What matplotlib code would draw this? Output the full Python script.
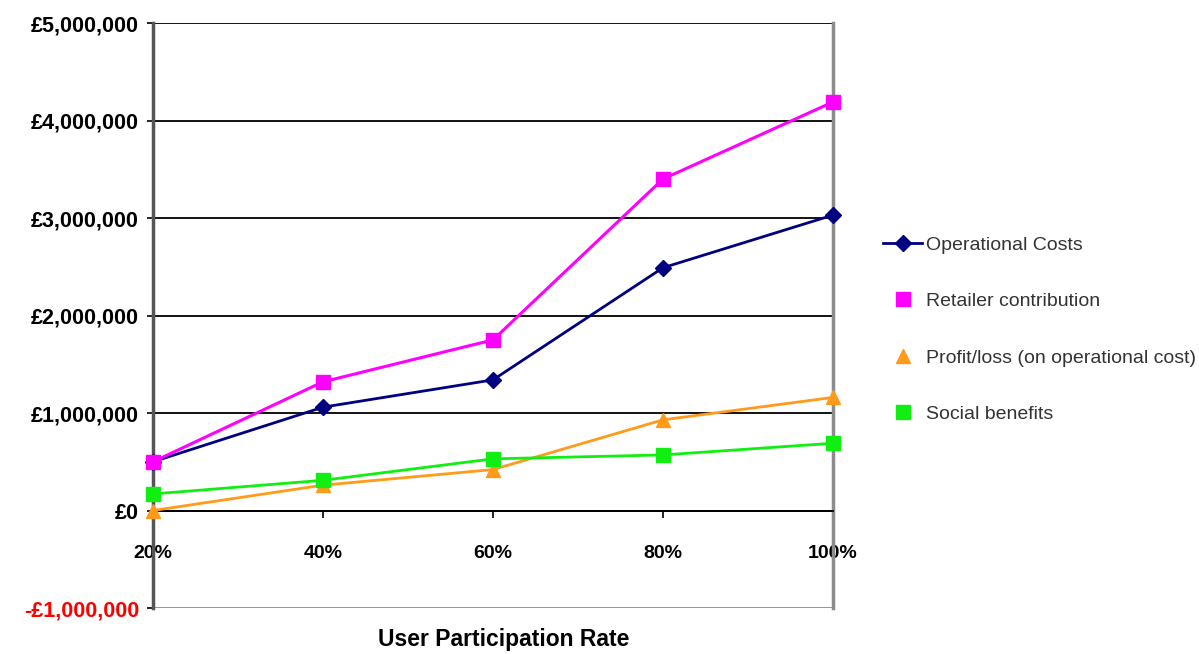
import matplotlib.pyplot as plt
from matplotlib.ticker import FuncFormatter

plt.rcParams['font.family'] = ['Liberation Sans', 'DejaVu Sans']

rates = ["20%", "40%", "60%", "80%", "100%"]
operational_costs = [500000, 1060000, 1340000, 2490000, 3030000]
retailer_contribution = [500000, 1320000, 1750000, 3400000, 4190000]
profit_loss = [0, 260000, 420000, 930000, 1160000]
social_benefits = [170000, 310000, 530000, 570000, 690000]

x = list(range(len(rates)))

fig = plt.figure(figsize=(11.99, 6.54), dpi=100)
ax = fig.add_axes([0.1276, 0.0703, 0.5671, 0.8945])

# horizontal gridlines every million, grey one at the bottom
for v in range(0, 5000001, 1000000):
    ax.axhline(v, color="black", lw=1.3, zorder=1)
ax.axhline(-1000000, color="#8c8c8c", lw=2, zorder=1)

ax.plot(x, operational_costs, color="#000080", marker="D", ms=8, lw=2,
        label="Operational Costs", zorder=3, clip_on=False)
ax.plot(x, retailer_contribution, color="#ff00ff", marker="s", ms=10, lw=2.2,
        label="Retailer contribution", zorder=3, clip_on=False)
ax.plot(x, profit_loss, color="#ff9a1a", marker="^", ms=10, lw=2,
        label="Profit/loss (on operational cost)", zorder=3, clip_on=False)
ax.plot(x, social_benefits, color="#11ee11", marker="s", ms=10, lw=2,
        label="Social benefits", zorder=3, clip_on=False)

ax.spines["bottom"].set_position(("data", 0))
ax.spines["bottom"].set_color("black")
ax.spines["bottom"].set_linewidth(1.3)
ax.spines["top"].set_visible(False)
ax.spines["left"].set_color("#555555")
ax.spines["left"].set_linewidth(2.5)
ax.spines["right"].set_color("#8c8c8c")
ax.spines["right"].set_linewidth(2.5)

ax.set_xlim(0, 4)
ax.set_ylim(-1000000, 5000000)
ax.set_xticks(x)
ax.set_xticklabels(rates, fontsize=14, fontweight="bold")
ax.set_yticks(range(-1000000, 5000001, 1000000))


def money(v, pos):
    if v < 0:
        return "-£{:,.0f}".format(-v)
    return "£{:,.0f}".format(v)


ax.yaxis.set_major_formatter(FuncFormatter(money))
ax.tick_params(axis="x", length=5, width=1.2, pad=20)
ax.tick_params(axis="y", length=4, width=1.2, pad=6, labelsize=15.5)
for lbl in ax.get_yticklabels():
    lbl.set_fontweight("bold")
ax.get_yticklabels()[0].set_color("red")

fig.text(0.42, 0.004, "User Participation Rate", fontsize=16.5, fontweight="bold",
         ha="center", va="bottom")

handles, labels = ax.get_legend_handles_labels()
leg = fig.legend(handles, labels, loc="center left", bbox_to_anchor=(0.722, 0.496),
                 frameon=False, fontsize=14, labelspacing=2.0, handlelength=2,
                 handletextpad=0.2)
for h in leg.legend_handles[1:]:
    h.set_linestyle("none")
for t in leg.get_texts():
    t.set_color("#333333")

fig.savefig("out.png", dpi=100)
